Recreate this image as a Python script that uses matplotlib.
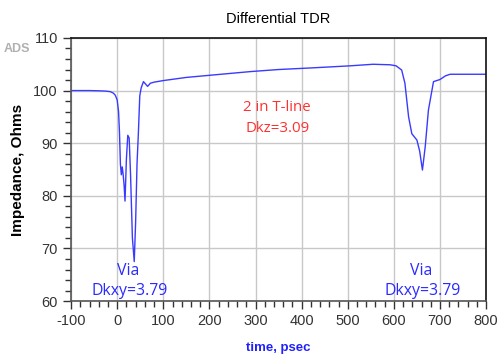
import numpy as np
import matplotlib.pyplot as plt
from matplotlib.ticker import MultipleLocator

plt.rcParams['axes.unicode_minus'] = False

# TDR trace (time in psec, impedance in Ohms)
time_ps = [-100, -60, -37, -25, -15, -8, -4, 0, 3, 5, 7, 9, 11, 13, 15, 17,
           20, 23, 26, 29, 33, 37, 40, 43, 46, 49, 52, 57, 62, 66, 72, 80,
           100, 150, 200, 288, 350, 420, 505, 555, 592, 605, 617, 624, 632,
           639, 650, 656, 662, 668, 675, 686, 700, 712, 722, 760, 800]
impedance = [100.0, 100.0, 99.95, 99.9, 99.8, 99.5, 99.1, 98.2, 96.0, 92.0,
             86.0, 84.0, 85.5, 84.0, 82.0, 79.0, 87.0, 91.5, 91.0, 84.0,
             72.0, 67.5, 75.0, 86.0, 92.0, 99.0, 100.5, 101.7, 101.2, 100.8,
             101.4, 101.6, 101.9, 102.5, 102.9, 103.6, 104.0, 104.3, 104.7,
             105.0, 104.9, 104.7, 103.9, 101.4, 95.0, 91.8, 90.6, 88.5, 84.9,
             89.3, 96.3, 101.7, 102.1, 102.8, 103.1, 103.1, 103.1]

fig = plt.figure(figsize=(4.97, 3.58), dpi=100)
ax = fig.add_axes([0.143, 0.159, 0.835, 0.735])

ax.plot(time_ps, impedance, color='#3a3aff', linewidth=1.0)

ax.set_xlim(-100, 800)
ax.set_ylim(60, 110)
ax.xaxis.set_major_locator(MultipleLocator(100))
ax.xaxis.set_minor_locator(MultipleLocator(20))
ax.yaxis.set_major_locator(MultipleLocator(10))
ax.yaxis.set_minor_locator(MultipleLocator(2))
ax.grid(True, which='major', color='#c8c8c8', linewidth=1.0)
ax.tick_params(which='major', direction='out', length=6, width=1, colors='#333333',
               labelsize=10.5, labelcolor='#333333')
ax.tick_params(which='minor', direction='out', length=4, width=1, colors='#333333')
for s in ['left', 'bottom']:
    ax.spines[s].set_color('#555555')
    ax.spines[s].set_linewidth(1.2)
for s in ['top', 'right']:
    ax.spines[s].set_color('#111111')
    ax.spines[s].set_linewidth(1.2)

for lab in ax.get_xticklabels() + ax.get_yticklabels():
    lab.set_family('Liberation Sans')

ax.set_title('Differential TDR', fontsize=10.5, family='Liberation Sans', pad=11)
ax.set_ylabel('Impedance, Ohms', fontsize=11, family='Liberation Sans', fontweight='bold', labelpad=6)
ax.set_xlabel('time, psec', fontsize=9.5, family='Liberation Sans', fontweight='bold',
              color='#2020ff', labelpad=10)

fig.text(0.035, 0.863, 'ADS', fontsize=9, color='#b0b0b0', family='Liberation Sans',
         fontweight='bold', ha='center', va='center')

ax.text(347, 96.7, '2 in T-line', color='#ff3030', fontsize=10.8, family='Open Sans',
        ha='center', va='center')
ax.text(347, 92.8, 'Dkz=3.09', color='#ff3030', fontsize=10.8, family='Open Sans',
        ha='center', va='center')
ax.text(24, 65.8, 'Via', color='#2a2aff', fontsize=11.4, family='Open Sans', ha='center', va='center')
ax.text(26, 62.0, 'Dkxy=3.79', color='#2a2aff', fontsize=11.4, family='Open Sans', ha='center', va='center')
ax.text(660, 65.8, 'Via', color='#2a2aff', fontsize=11.4, family='Open Sans', ha='center', va='center')
ax.text(662, 62.0, 'Dkxy=3.79', color='#2a2aff', fontsize=11.4, family='Open Sans', ha='center', va='center')

fig.savefig('out.png', dpi=100)
